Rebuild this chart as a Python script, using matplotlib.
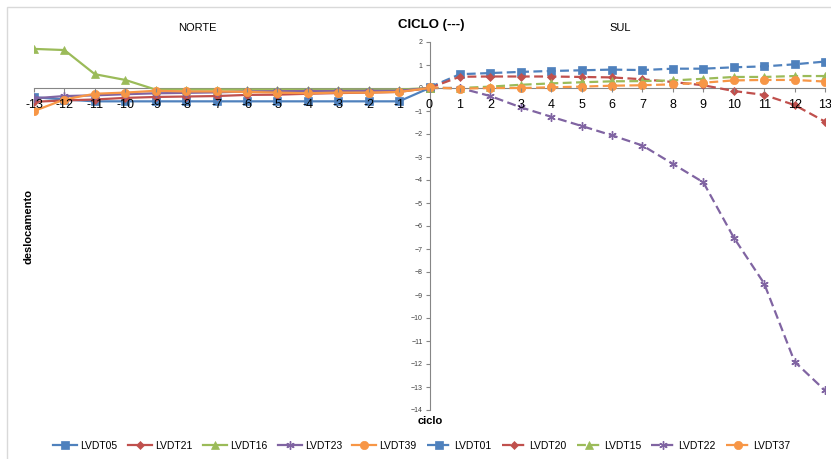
import matplotlib
matplotlib.use("Agg")
import matplotlib.pyplot as plt
from matplotlib.patches import Rectangle

plt.rcParams['font.family'] = ['Liberation Sans', 'DejaVu Sans']

# ciclos
x_norte = list(range(-13, 1))
x_sul = list(range(0, 14))

# NORTE (linhas cheias)
lvdt05 = [-0.4, -0.5, -0.58, -0.58, -0.58, -0.58, -0.58, -0.58, -0.58, -0.58, -0.58, -0.58, -0.58, 0.0]
lvdt21 = [-0.6, -0.54, -0.5, -0.43, -0.39, -0.37, -0.35, -0.3, -0.29, -0.25, -0.22, -0.2, -0.17, 0.0]
lvdt16 = [1.7, 1.65, 0.6, 0.35, -0.07, -0.07, -0.07, -0.07, -0.07, -0.07, -0.07, -0.07, -0.07, 0.0]
lvdt23 = [-0.45, -0.35, -0.32, -0.27, -0.23, -0.21, -0.19, -0.15, -0.14, -0.13, -0.13, -0.12, -0.12, 0.0]
lvdt39 = [-1.0, -0.5, -0.25, -0.2, -0.12, -0.15, -0.15, -0.17, -0.2, -0.23, -0.2, -0.2, -0.17, 0.0]

# SUL (linhas tracejadas)
lvdt01 = [0.03, 0.6, 0.65, 0.7, 0.74, 0.77, 0.8, 0.78, 0.84, 0.84, 0.9, 0.94, 1.03, 1.15]
lvdt20 = [0.0, 0.49, 0.5, 0.5, 0.5, 0.48, 0.46, 0.38, 0.26, 0.12, -0.13, -0.3, -0.74, -1.46]
lvdt15 = [0.0, 0.0, 0.06, 0.14, 0.2, 0.25, 0.29, 0.3, 0.33, 0.4, 0.48, 0.48, 0.52, 0.52]
lvdt22 = [0.0, 0.0, -0.35, -0.84, -1.25, -1.65, -2.06, -2.5, -3.3, -4.1, -6.5, -8.5, -11.9, -13.15]
lvdt37 = [0.03, -0.03, 0.0, 0.0, 0.03, 0.06, 0.1, 0.12, 0.16, 0.23, 0.33, 0.35, 0.35, 0.28]

blue = '#4F81BD'
red = '#C0504D'
green = '#9BBB59'
purple = '#8064A2'
orange = '#F79646'
star = (6, 2, 0)

fig = plt.figure(figsize=(8.31, 4.59), dpi=100)
fig.patches.append(Rectangle((7 / 831, -0.1), 1.2, 1 - 7 / 459 + 0.1,
                             transform=fig.transFigure, fill=False,
                             edgecolor='#D9D9D9', lw=1))
ax = fig.add_axes([34 / 831, 1 - 410 / 459, 791 / 831, 368 / 459])

norte = [('LVDT05', lvdt05, blue, 's', 5.5),
         ('LVDT21', lvdt21, red, 'D', 4),
         ('LVDT16', lvdt16, green, '^', 6),
         ('LVDT23', lvdt23, purple, star, 6),
         ('LVDT39', lvdt39, orange, 'o', 6)]
sul = [('LVDT01', lvdt01, blue, 's', 5.5),
       ('LVDT20', lvdt20, red, 'D', 4),
       ('LVDT15', lvdt15, green, '^', 6),
       ('LVDT22', lvdt22, purple, star, 6),
       ('LVDT37', lvdt37, orange, 'o', 6)]

for nome, y, cor, mk, ms in norte:
    ax.plot(x_norte, y, color=cor, marker=mk, ms=ms, lw=1.6, label=nome,
            markeredgewidth=1 if mk == star else 0.5)
for nome, y, cor, mk, ms in sul:
    ax.plot(x_sul, y, color=cor, marker=mk, ms=ms, lw=1.6, label=nome,
            dashes=(4, 2), markeredgewidth=1 if mk == star else 0.5)

ax.set_xlim(-13, 13)
ax.set_ylim(-14, 2)

# eixos cruzando no zero, rotulos por cima das linhas (como no Excel)
for s in ['top', 'right']:
    ax.spines[s].set_visible(False)
ax.spines['left'].set_position(('data', 0))
ax.spines['bottom'].set_position(('data', 0))
ax.spines['left'].set_color('#868686')
ax.spines['bottom'].set_color('#868686')
ax.spines['left'].set_zorder(1)
ax.spines['bottom'].set_zorder(1)
ax.xaxis.set_zorder(3)

ax.set_xticks(range(-13, 14))
ax.set_xticklabels([str(i) for i in range(-13, 14)])
ax.tick_params(axis='x', length=3, color='#868686', labelsize=9, pad=5)
ax.set_yticks(range(-14, 3))
ax.tick_params(axis='y', length=3, color='#868686', labelsize=5,
               labelcolor='#404040', pad=2)

fig.text(197 / 831, 1 - 28 / 459, 'NORTE', ha='center', va='center', fontsize=8)
fig.text(431 / 831, 1 - 25 / 459, 'CICLO (---)', ha='center', va='center',
         fontsize=9.5, fontweight='bold')
fig.text(620 / 831, 1 - 28 / 459, 'SUL', ha='center', va='center', fontsize=8)
fig.text(29 / 831, 1 - 227 / 459, 'deslocamento', ha='center', va='center',
         rotation=90, fontsize=8, fontweight='bold')
fig.text(430 / 831, 1 - 421 / 459, 'ciclo', ha='center', va='center',
         fontsize=8, fontweight='bold')

fig.legend(loc='center', bbox_to_anchor=(422 / 831, 1 - 446 / 459), ncol=10,
           frameon=False, fontsize=7.5, handlelength=2.3, columnspacing=1.0,
           handletextpad=0.3)

fig.savefig('out.png', dpi=100)
